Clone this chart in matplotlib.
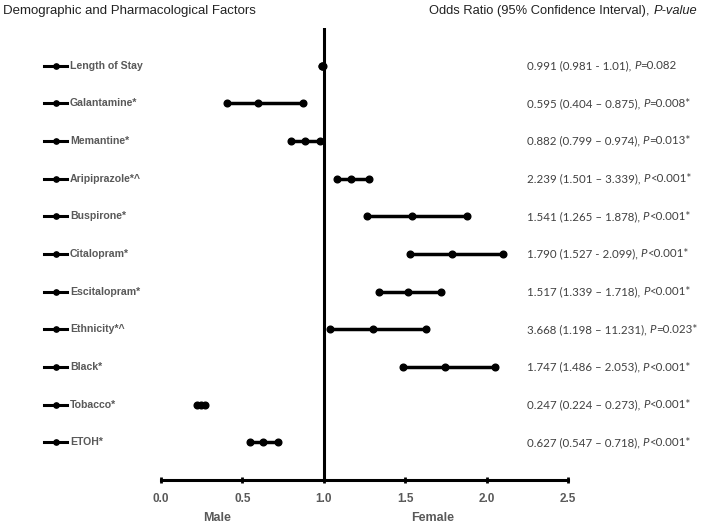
import matplotlib.pyplot as plt

# 变量名称（从上到下）
factors = ["Length of Stay", "Galantamine*", "Memantine*", "Aripiprazole*^",
           "Buspirone*", "Citalopram*", "Escitalopram*", "Ethnicity*^",
           "Black*", "Tobacco*", "ETOH*"]

# 图中绘制的位置（下限、点估计、上限）
lower = [0.99, 0.404, 0.799, 1.08, 1.265, 1.527, 1.339, 1.04, 1.486, 0.224, 0.547]
est = [0.991, 0.595, 0.882, 1.17, 1.541, 1.790, 1.517, 1.30, 1.747, 0.247, 0.627]
upper = [0.992, 0.875, 0.974, 1.28, 1.878, 2.099, 1.718, 1.63, 2.053, 0.273, 0.718]

# 右侧文字
or_text = ["0.991 (0.981 - 1.01), ", "0.595 (0.404 \u2013 0.875), ",
           "0.882 (0.799 \u2013 0.974), ", "2.239 (1.501 \u2013 3.339), ",
           "1.541 (1.265 \u2013 1.878), ", "1.790 (1.527 - 2.099), ",
           "1.517 (1.339 \u2013 1.718), ", "3.668 (1.198 \u2013 11.231), ",
           "1.747 (1.486 \u2013 2.053), ", "0.247 (0.224 \u2013 0.273), ",
           "0.627 (0.547 \u2013 0.718), "]
p_text = ["=0.082", "=0.008*", "=0.013*", "<0.001*", "<0.001*", "<0.001*",
          "<0.001*", "=0.023*", "<0.001*", "<0.001*", "<0.001*"]

xticks = [0.0, 0.5, 1.0, 1.5, 2.0, 2.5]

fig = plt.figure(figsize=(7.08, 5.23), dpi=100)
ax = fig.add_axes([0.2274, 0.0822, 0.5749, 0.8643])

gray = "#595959"
for i in range(len(factors)):
    ax.plot([lower[i], upper[i]], [i, i], color="black", lw=2.5, solid_capstyle="butt")
    ax.plot([lower[i], est[i], upper[i]], [i, i, i], "o", color="black", ms=4.8)
    # 左侧图例符号
    ax.plot([-0.72, -0.58], [i, i], color="black", lw=2.2, clip_on=False)
    ax.plot([-0.642], [i], "o", color="black", ms=3.8, clip_on=False)
    ax.text(-0.56, i, factors[i], fontsize=7.6, fontweight="bold", color=gray,
            va="center", ha="left", family="Liberation Sans")
    # 右侧 OR 文字
    t = ax.text(2.247, i, or_text[i], fontsize=8.3, color="#404040", va="center",
                ha="left", family="Lato")
    t2 = ax.annotate("P", xycoords=t, xy=(1, 0.5), va="center", ha="left",
                     fontsize=8.3, color="#404040", style="italic", family="Lato")
    ax.annotate(p_text[i], xycoords=t2, xy=(1, 0.5), va="center", ha="left",
                fontsize=8.3, color="#404040", family="Lato")

ax.axvline(1.0, color="black", lw=2.2)
ax.set_xlim(0, 2.5)
ax.set_ylim(11, -1)
ax.set_xticks(xticks)
ax.set_xticklabels([f"{v:.1f}" for v in xticks], fontweight="bold", color=gray,
                   fontsize=8.5, family="Liberation Sans")
ax.tick_params(axis="x", direction="inout", length=5, width=2, pad=7)
ax.set_yticks([])
for s in ["top", "right", "left"]:
    ax.spines[s].set_visible(False)
ax.spines["bottom"].set_linewidth(2.2)

ax.text(0.345, 12.0, "Male", fontsize=9, fontweight="bold", color=gray,
        ha="center", va="center", family="Liberation Sans")
ax.text(1.67, 12.0, "Female", fontsize=9, fontweight="bold", color=gray,
        ha="center", va="center", family="Liberation Sans")

fig.text(0.004, 0.979, "Demographic and Pharmacological Factors", fontsize=9.5,
         ha="left", va="center", color="#222222", family="Liberation Sans")
h = fig.text(0.606, 0.979, "Odds Ratio (95% Confidence Interval), ", fontsize=9.3,
             ha="left", va="center", color="#222222", family="Liberation Sans")
ax.annotate("P-value", xycoords=h, xy=(1, 0.5), va="center", ha="left",
            fontsize=9.3, color="#222222", style="italic", family="Liberation Sans",
            annotation_clip=False)

fig.savefig("out.png", dpi=100)
